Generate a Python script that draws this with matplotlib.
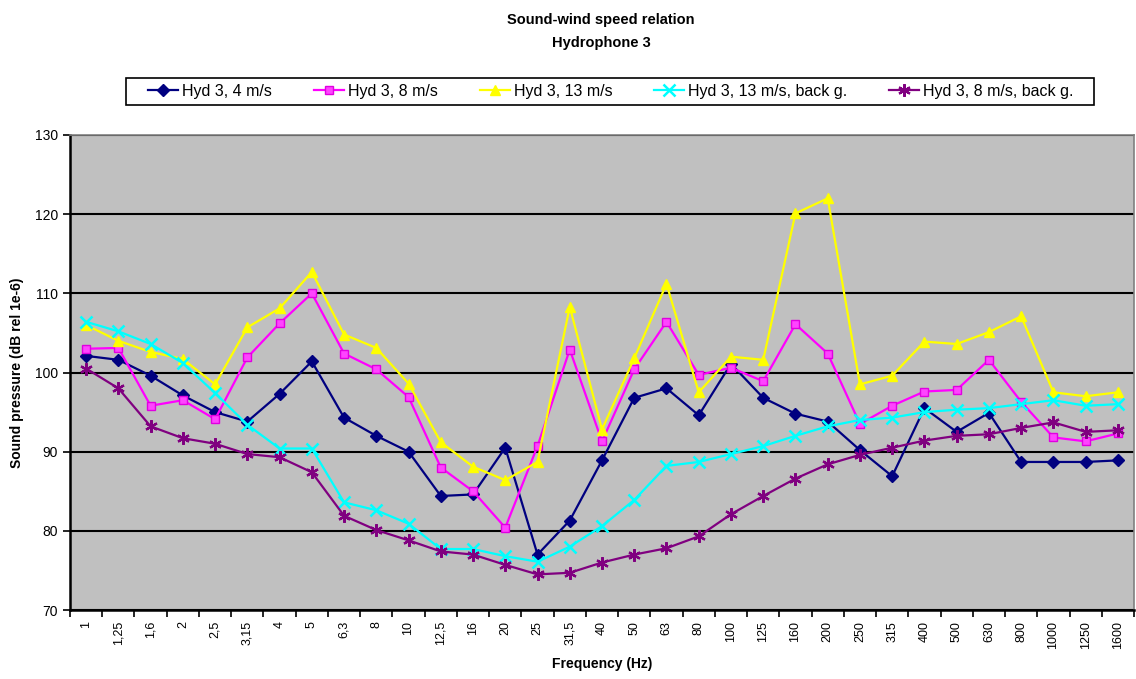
import matplotlib
matplotlib.use("Agg")
import matplotlib.pyplot as plt
from matplotlib.patches import Rectangle
import numpy as np

plt.rcParams['font.family'] = ['Liberation Sans', 'DejaVu Sans']

categories = ["1", "1,25", "1,6", "2", "2,5", "3,15", "4", "5", "6,3", "8", "10", "12,5",
              "16", "20", "25", "31,5", "40", "50", "63", "80", "100", "125", "160", "200",
              "250", "315", "400", "500", "630", "800", "1000", "1250", "1600"]

hyd_4 = [102.1, 101.6, 99.6, 97.1, 95.0, 93.8, 97.3, 101.4, 94.3, 92.0, 90.0, 84.4,
         84.6, 90.5, 77.0, 81.3, 88.9, 96.8, 98.0, 94.6, 101.1, 96.8, 94.8, 93.8,
         90.2, 86.9, 95.5, 92.5, 94.9, 88.7, 88.7, 88.7, 88.9]
hyd_8 = [103.0, 103.1, 95.8, 96.5, 94.1, 101.9, 106.2, 110.0, 102.4, 100.4, 96.9, 88.0,
         85.0, 80.4, 90.7, 102.9, 91.3, 100.4, 106.4, 99.7, 100.6, 98.9, 106.1, 102.4,
         93.5, 95.8, 97.6, 97.8, 101.6, 96.3, 91.8, 91.3, 92.3]
hyd_13 = [106.0, 104.0, 102.6, 101.7, 98.5, 105.7, 108.1, 112.7, 104.8, 103.1, 98.6, 91.2,
          88.1, 86.4, 88.7, 108.3, 92.8, 101.8, 111.2, 97.5, 102.0, 101.6, 120.1, 122.0,
          98.5, 99.6, 103.9, 103.6, 105.1, 107.1, 97.5, 97.0, 97.5]
hyd_13_bg = [106.4, 105.2, 103.6, 101.2, 97.4, 93.4, 90.4, 90.4, 83.6, 82.6, 80.9, 77.7,
             77.7, 76.8, 76.1, 78.0, 80.6, 83.9, 88.2, 88.7, 89.7, 90.7, 92.0, 93.2,
             94.0, 94.3, 95.0, 95.3, 95.5, 96.0, 96.5, 95.8, 96.0]
hyd_8_bg = [100.5, 98.0, 93.2, 91.7, 91.0, 89.7, 89.3, 87.4, 81.9, 80.1, 78.8, 77.4,
            77.0, 75.7, 74.5, 74.7, 76.0, 77.0, 77.8, 79.3, 82.1, 84.4, 86.6, 88.4,
            89.6, 90.5, 91.4, 92.0, 92.2, 93.0, 93.7, 92.5, 92.7]

W, H = 1136, 679
fig = plt.figure(figsize=(W / 100, H / 100), dpi=100)
ax = fig.add_axes([70 / W, 1 - 610 / H, (1134 - 70) / W, (610 - 135) / H])
ax.set_facecolor('#C0C0C0')

x = np.arange(len(categories))
lw = 1.6
ax.plot(x, hyd_4, color='#000080', lw=lw, marker='D', ms=6, label='Hyd 3, 4 m/s', zorder=3)
ax.plot(x, hyd_8, color='#FF00FF', lw=lw, marker='s', ms=6, mfc='#FF44FF', mec='#E000E0',
        label='Hyd 3, 8 m/s', zorder=3)
ax.plot(x, hyd_13, color='#FFFF00', lw=lw, marker='^', ms=7, label='Hyd 3, 13 m/s', zorder=3)
ax.plot(x, hyd_13_bg, color='#00FFFF', lw=lw, marker='x', ms=8, mew=1.8,
        label='Hyd 3, 13 m/s, back g.', zorder=3)
ax.plot(x, hyd_8_bg, color='#800080', lw=lw, marker=(6, 2, 0), ms=9, mew=1.6,
        label='Hyd 3, 8 m/s, back g.', zorder=3)

ax.set_xlim(-0.5, len(categories) - 0.5)
ax.set_ylim(70, 130)
ax.set_yticks(np.arange(70, 131, 10))
ax.yaxis.grid(True, color='black', lw=1.5)
ax.set_axisbelow(True)

ax.set_xticks(x)
ax.set_xticklabels(categories, rotation=90, fontsize=9)
ax.set_xticks(np.arange(-0.5, len(categories), 1), minor=True)
ax.tick_params(axis='x', which='major', length=0, pad=8)
ax.tick_params(axis='x', which='minor', length=5, width=1.2, direction='out')
ax.tick_params(axis='y', length=5, width=1.2, direction='out', labelsize=10)

for s in ['left', 'bottom']:
    ax.spines[s].set_color('black')
    ax.spines[s].set_linewidth(1.8)
for s in ['top', 'right']:
    ax.spines[s].set_color('#808080')
    ax.spines[s].set_linewidth(1.2)

ax.set_ylabel('Sound pressure (dB rel 1e-6)', fontsize=10, fontweight='bold', labelpad=8)
ax.set_xlabel('Frequency (Hz)', fontsize=10, fontweight='bold', labelpad=6)

fig.text(601 / W, 1 - 20 / H, 'Sound-wind speed relation', ha='center', va='center',
         fontsize=10.5, fontweight='bold')
fig.text(601 / W, 1 - 43 / H, 'Hydrophone 3', ha='center', va='center',
         fontsize=10.5, fontweight='bold')

# legend box
fig.patches.append(Rectangle((126 / W, 1 - 105 / H), (1094 - 126) / W, 27 / H,
                             transform=fig.transFigure, fill=False, edgecolor='black',
                             lw=1.2, zorder=5))
leg = fig.legend(loc='center', bbox_to_anchor=(611 / W, 1 - 91.5 / H), ncol=5,
                 fontsize=11.5, frameon=False,
                 columnspacing=2.6, handlelength=1.9, handletextpad=0.25,
                 borderpad=0.2)

fig.savefig('out.png', dpi=100)
